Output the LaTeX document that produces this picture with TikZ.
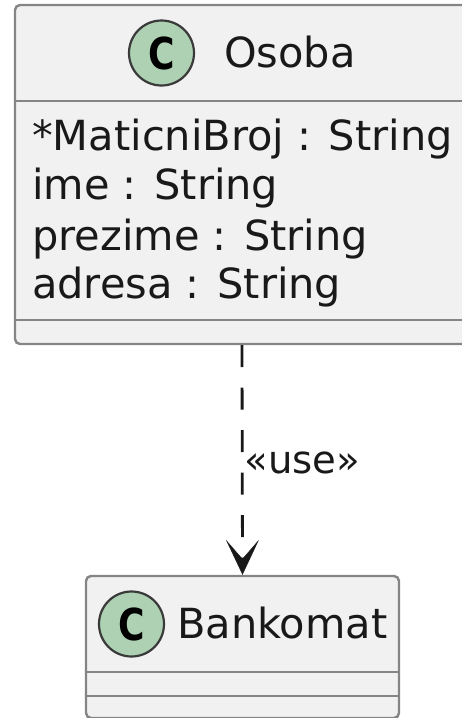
\documentclass[tikz,border=0pt]{standalone}
\usepackage{fontspec}
\setmainfont{DejaVu Sans}
\usetikzlibrary{arrows.meta}
\definecolor{boxfill}{HTML}{F1F1F1}
\definecolor{boxline}{HTML}{858585}
\definecolor{spotfill}{HTML}{ADD1B2}
\definecolor{spotline}{HTML}{3A3A3A}
\tikzset{
  umlbox/.style={draw=boxline,fill=boxfill,line width=2.4pt,rounded corners=5pt,inner sep=0pt,minimum width=#1},
  divider/.style={draw=boxline,line width=2.4pt},
  spot/.style={circle,draw=spotline,fill=spotfill,line width=2.2pt,minimum size=65pt,inner sep=0pt},
  spotletter/.style={font=\fontsize{44}{44}\selectfont\bfseries,text=black,anchor=base,inner sep=0pt,xscale=0.82},
  txt/.style={font=\fontsize{41.5}{41.5}\selectfont,text=black!90,anchor=base west,inner sep=0pt},
  lbl/.style={font=\fontsize{38.6}{38.6}\selectfont,text=black!90,anchor=base west,inner sep=0pt},
  dep/.style={draw=black!90,line width=2.8pt,dash pattern=on 22pt off 20.5pt,
    -{Stealth[length=35pt,width=33pt,inset=19pt,line width=0.5pt,fill=black!90]}}
}
\begin{document}
\begin{tikzpicture}[x=1pt,y=-1pt]
\useasboundingbox (0,0) rectangle (462,718);
\clip (0,0) rectangle (462,718);
\node[umlbox=454pt,minimum height=339pt] (osoba) at (242,174.5) {};
\node[umlbox=313pt,minimum height=142pt] (bank) at (242.5,647) {};
\draw[divider] (osoba.west |- 0,101) coordinate (o1) -- (osoba.east |- 0,101) coordinate (o2);
\draw[divider] (osoba.west |- 0,320) coordinate (o3) -- (osoba.east |- 0,320) coordinate (o4);
\draw[divider] (bank.west |- 0,672) coordinate (b1) -- (bank.east |- 0,672) coordinate (b2);
\draw[divider] (bank.west |- 0,696) coordinate (b3) -- (bank.east |- 0,696) coordinate (b4);
\node[spot] (s1) at (161.5,53) {};
\node[spotletter] (c1) at (161.5,69) {C};
\node[txt] (t0) at (224,67) {Osoba};
\node[txt] (t1) at (32,150) {*MaticniBroj : String};
\node[txt] (t2) at (32,199) {ime : String};
\node[txt] (t3) at (32,250) {prezime : String};
\node[txt] (t4) at (32,298) {adresa : String};
\node[spot] (s2) at (131.5,624) {};
\node[spotletter] (c2) at (131.5,640) {C};
\node[txt] (t5) at (177,638) {Bankomat};
\node[lbl] (u) at (244.5,473) {«use»};
\draw[dep] (osoba.south) -- (bank.north);
\end{tikzpicture}
\end{document}
